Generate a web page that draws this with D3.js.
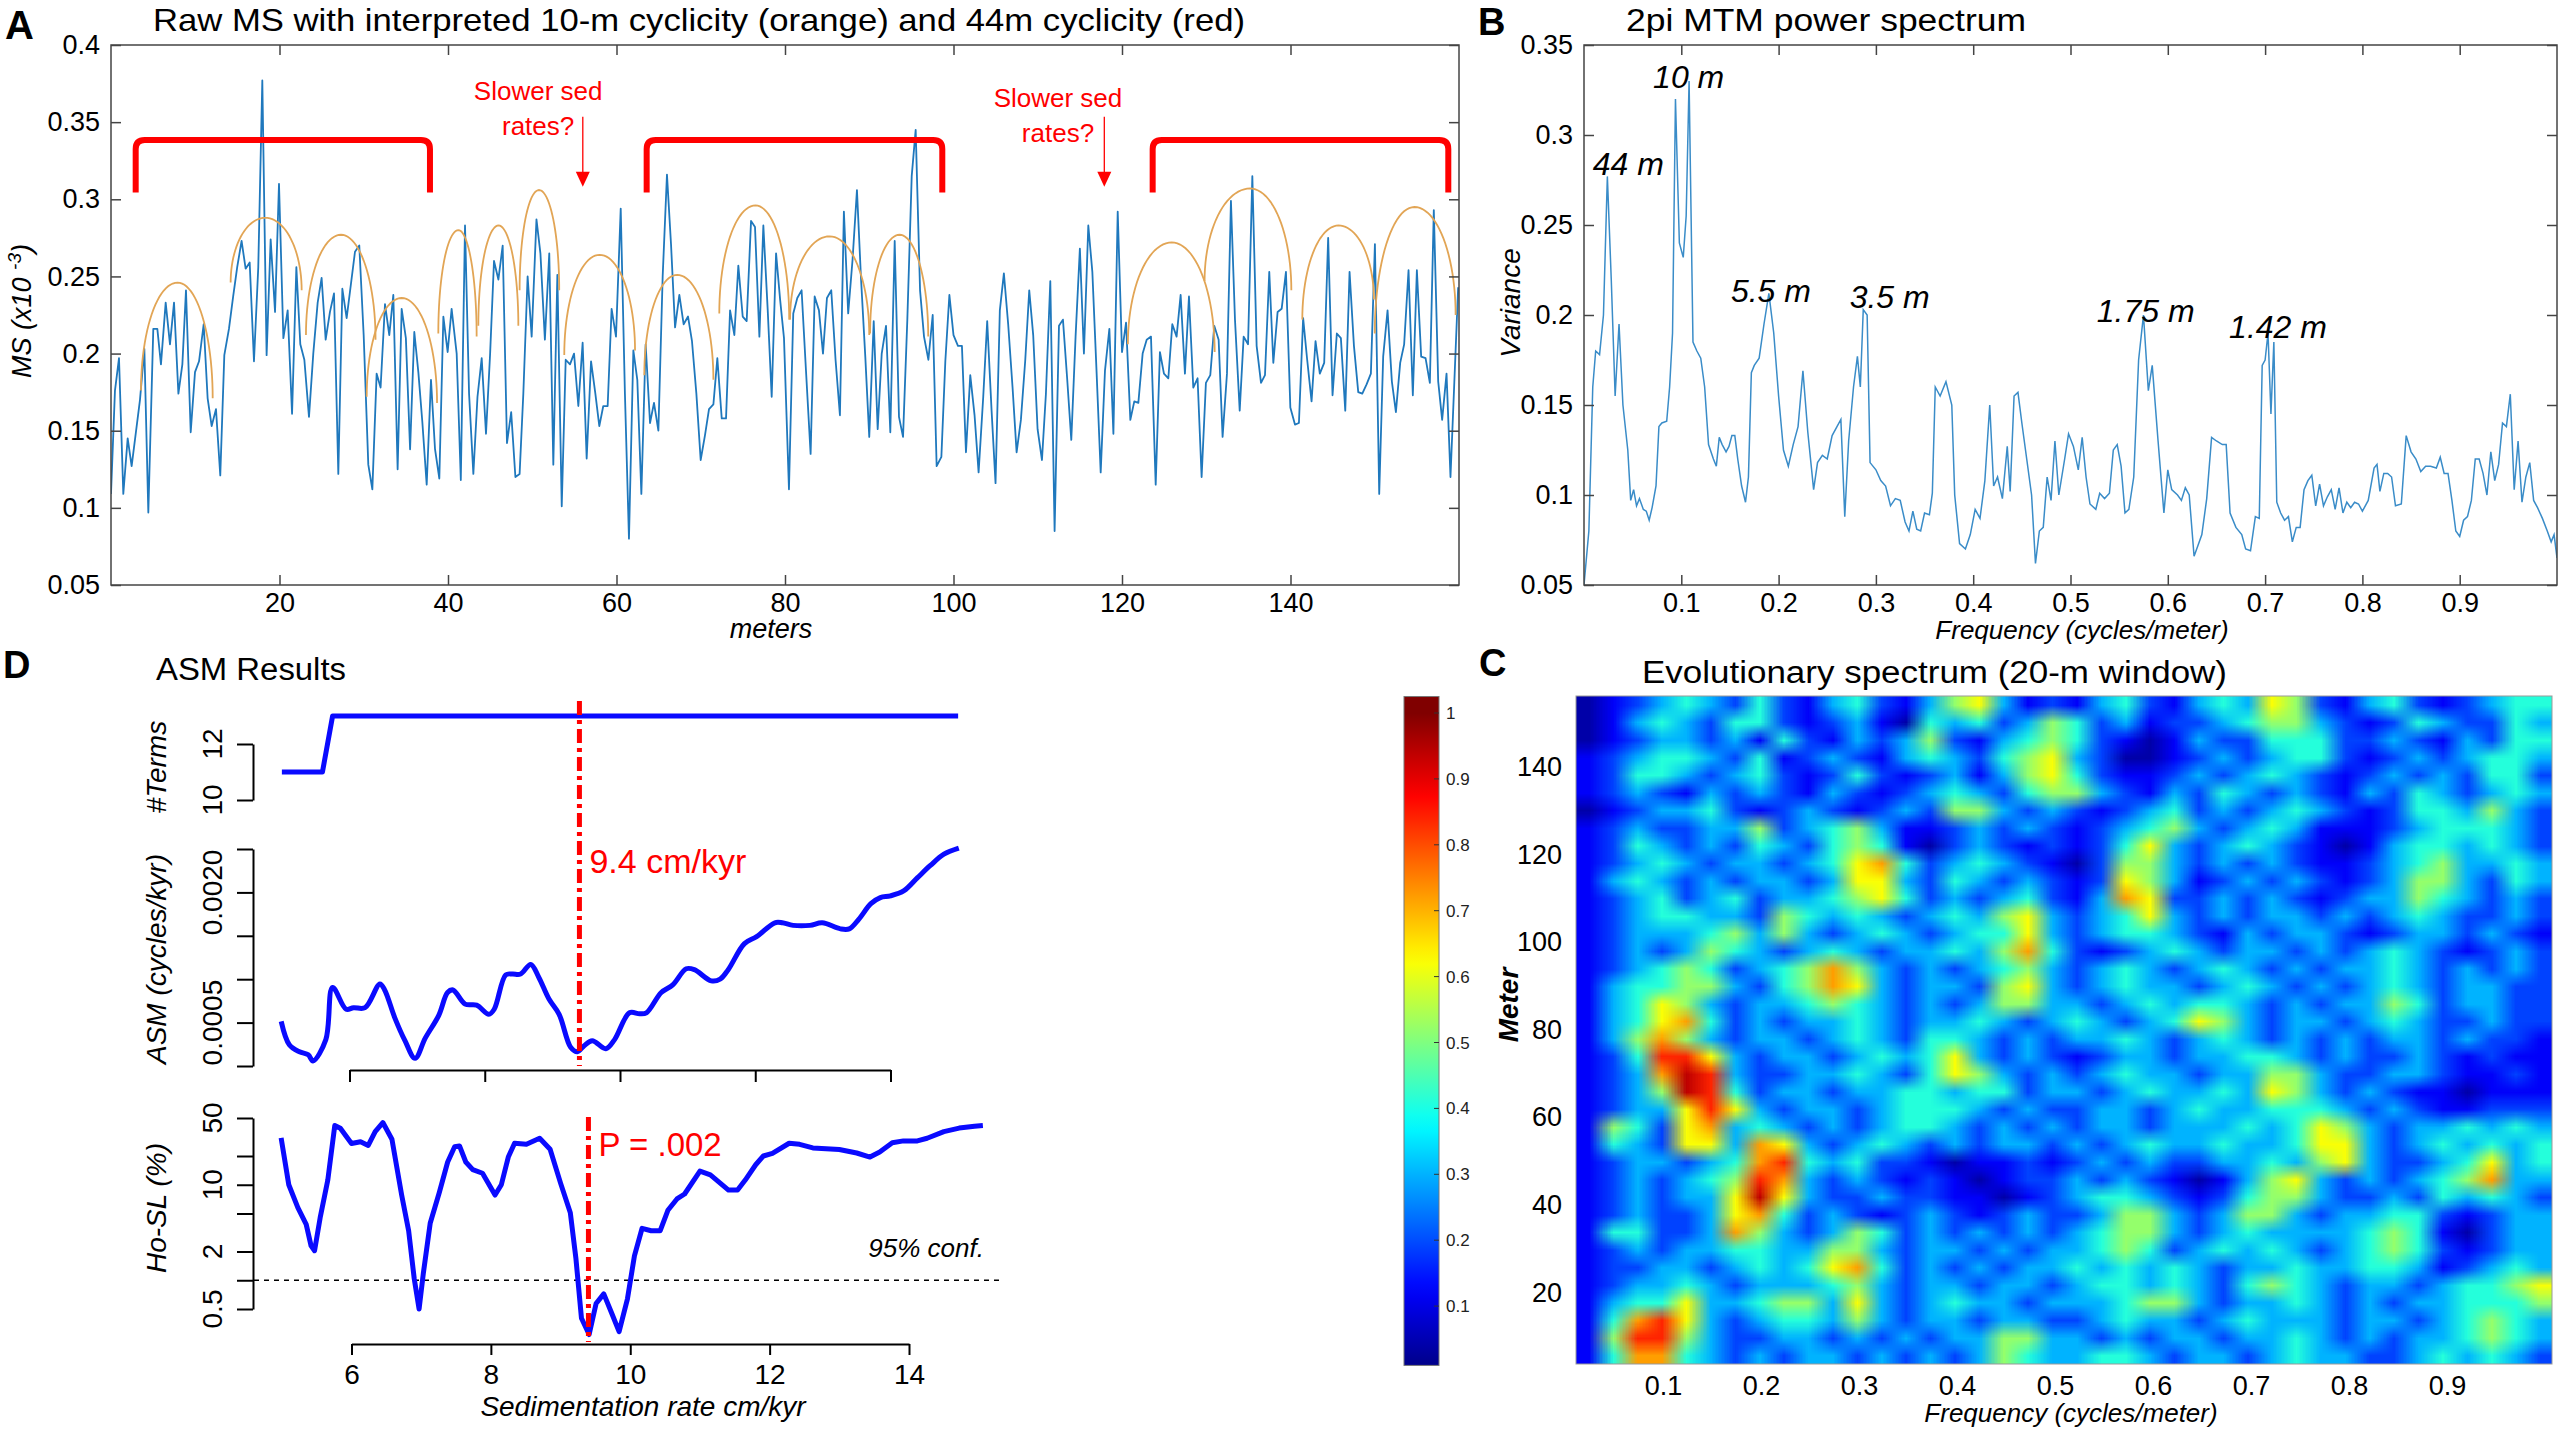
<!DOCTYPE html>
<html>
<head>
<meta charset="utf-8">
<script src="https://cdn.jsdelivr.net/npm/d3@7"></script>
<style>
  body { margin: 0; background: #fff; }
  text { font-family: "Liberation Sans", Arial, sans-serif; }
</style>
</head>
<body>
<svg id="fig"></svg>
<script>
// ---------- Panel A : raw MS series (depth m, MS x10^-3) ----------
var msSeries = [[0.0,0.109],[0.47,0.176],[0.95,0.197],[1.46,0.109],[1.98,0.145],[2.45,0.127],[3.44,0.170],[3.96,0.203],[4.43,0.097],[5.02,0.216],[5.50,0.216],[5.93,0.193],[6.49,0.233],[7.0,0.206],[7.48,0.233],[8.0,0.174],[8.47,0.193],[8.9,0.241],[9.46,0.149],[9.97,0.188],[10.45,0.195],[11.0,0.219],[11.47,0.171],[11.95,0.153],[12.46,0.164],[12.97,0.121],[13.45,0.199],[14.0,0.216],[14.5,0.237],[14.98,0.256],[15.5,0.273],[15.98,0.255],[16.46,0.259],[16.97,0.195],[17.48,0.256],[17.96,0.377],[18.47,0.199],[18.95,0.274],[19.47,0.227],[19.94,0.310],[20.46,0.210],[20.97,0.228],[21.49,0.161],[22.0,0.256],[22.47,0.206],[22.95,0.196],[23.5,0.159],[24.01,0.200],[24.53,0.233],[25.0,0.249],[25.48,0.209],[25.99,0.227],[26.47,0.239],[26.98,0.122],[27.46,0.242],[27.97,0.223],[28.96,0.266],[29.47,0.270],[29.99,0.212],[30.54,0.128],[31.02,0.112],[31.53,0.187],[32.0,0.178],[32.52,0.232],[33.03,0.212],[33.51,0.238],[34.02,0.125],[34.5,0.229],[35.0,0.210],[35.5,0.138],[36.0,0.214],[36.48,0.188],[36.95,0.156],[37.47,0.115],[37.98,0.183],[38.46,0.138],[38.97,0.119],[39.45,0.224],[39.96,0.201],[40.43,0.229],
[41.03,0.200],[41.52,0.118],[42.02,0.283],[42.5,0.174],[43.01,0.122],[43.5,0.172],[44.0,0.197],[44.51,0.148],[45.0,0.200],[45.46,0.260],[45.98,0.248],[46.49,0.270],[47.0,0.142],[47.5,0.162],[48.0,0.120],[48.5,0.122],[48.94,0.174],[49.45,0.250],[49.93,0.211],[50.5,0.287],[50.97,0.265],[51.5,0.209],[52.02,0.265],[52.5,0.128],[52.98,0.251],[53.5,0.101],[53.97,0.196],[54.48,0.193],[54.96,0.200],[55.47,0.166],[55.98,0.207],[56.46,0.132],[56.98,0.195],[57.49,0.174],[57.96,0.153],[58.43,0.166],[58.95,0.166],[59.42,0.229],[59.94,0.211],[60.5,0.294],[61.0,0.174],[61.48,0.080],[62.0,0.202],[62.47,0.183],[62.95,0.109],[63.46,0.206],[63.98,0.155],[64.45,0.168],[64.97,0.150],[65.48,0.250],[65.99,0.316],[66.47,0.271],[66.95,0.217],[67.46,0.238],[67.97,0.219],[68.49,0.224],[68.96,0.208],[69.48,0.174],[69.99,0.131],[70.5,0.147],[70.98,0.164],[71.5,0.167],[71.97,0.197],[72.49,0.158],[73.0,0.158],[73.48,0.228],[73.99,0.212],[74.46,0.257],[74.98,0.224],[75.45,0.221],[75.97,0.286],[76.44,0.282],[76.96,0.211],[77.43,0.283],[77.95,0.228],[78.42,0.172],[78.94,0.265],[79.42,0.235],
[79.88,0.210],[80.47,0.112],[80.98,0.226],[81.46,0.236],[81.97,0.241],[82.49,0.189],[83.04,0.135],[83.52,0.237],[84.03,0.228],[84.51,0.200],[84.98,0.236],[85.49,0.241],[86.0,0.196],[86.52,0.160],[86.99,0.292],[87.5,0.226],[88.02,0.261],[88.54,0.306],[89.01,0.250],[89.53,0.198],[90.0,0.146],[90.53,0.221],[91.0,0.151],[91.48,0.200],[91.99,0.218],[92.5,0.149],[93.02,0.273],[93.53,0.159],[94.01,0.146],[94.52,0.222],[95.04,0.315],[95.51,0.345],[96.03,0.241],[96.5,0.211],[97.02,0.196],[97.53,0.225],[98.0,0.127],[98.56,0.133],[99.03,0.195],[99.51,0.238],[100.0,0.212],[100.53,0.205],[101.0,0.205],[101.48,0.136],[101.99,0.186],[102.5,0.160],[102.98,0.123],[103.53,0.172],[104.0,0.221],[104.52,0.163],[104.99,0.116],[105.5,0.228],[105.98,0.252],[106.49,0.219],[107.01,0.178],[107.49,0.136],[108.0,0.157],[108.52,0.196],[108.99,0.241],[109.46,0.212],[109.98,0.151],[110.5,0.131],[110.97,0.174],[111.49,0.247],[112.0,0.085],[112.52,0.218],[112.99,0.222],[113.5,0.183],[113.98,0.144],[114.49,0.211],[115.0,0.268],[115.48,0.200],[116.0,0.283],[116.48,0.253],[116.99,0.187],[117.47,0.123],[117.98,0.189],[118.5,0.216],[118.98,0.148],[119.49,0.292],[120.0,0.201],[120.48,0.220],
[120.99,0.157],[121.46,0.169],[121.94,0.168],[122.45,0.200],[122.93,0.209],[123.44,0.211],[124.0,0.115],[124.5,0.201],[124.98,0.187],[125.5,0.184],[125.97,0.219],[126.48,0.211],[126.96,0.238],[127.47,0.187],[127.95,0.237],[128.46,0.178],[128.97,0.184],[129.45,0.120],[129.96,0.181],[130.48,0.186],[130.95,0.218],[131.47,0.209],[131.94,0.146],[132.46,0.187],[132.93,0.299],[133.41,0.222],[133.97,0.163],[134.44,0.211],[134.96,0.206],[135.47,0.315],[135.98,0.205],[136.5,0.181],[136.97,0.186],[137.48,0.253],[137.96,0.194],[138.47,0.227],[138.95,0.229],[139.46,0.253],[139.98,0.165],[140.53,0.154],[141.0,0.155],[141.5,0.223],[141.98,0.196],[142.5,0.169],[142.97,0.208],[143.48,0.187],[144.0,0.194],[144.47,0.275],[144.99,0.173],[145.5,0.213],[145.98,0.210],[146.5,0.163],[147.01,0.253],[147.53,0.205],[148.04,0.175],[148.52,0.174],[149.03,0.180],[149.54,0.187],[150.02,0.271],[150.53,0.109],[151.0,0.198],[151.52,0.228],[152.03,0.182],[152.51,0.162],[153.02,0.194],[153.49,0.206],[154.01,0.254],[154.52,0.173],[155.0,0.254],[155.51,0.198],[156.03,0.197],[156.54,0.181],[157.01,0.293],[157.53,0.182],[158.0,0.157],[158.52,0.187],[158.99,0.120],[159.9,0.243]];

// interpreted 10-m cycles: start, crest, end  [m, MS]
var arcStart = [[3.56,0.176],[14.2,0.246],[23.14,0.212],[30.35,0.172],[38.85,0.213],[43.6,0.218],[48.5,0.241],[53.8,0.199],[63.3,0.186],[72.2,0.226],[80.6,0.222],[90.1,0.213],[120.7,0.206],[129.8,0.247],[141.4,0.222],[150.0,0.213]];
var arcPeak  = [[7.9,0.246],[18.3,0.288],[27.3,0.277],[34.5,0.236],[41.23,0.280],[46.0,0.283],[50.8,0.306],[58.0,0.264],[67.2,0.251],[76.5,0.296],[85.3,0.276],[93.6,0.277],[125.9,0.272],[135.2,0.307],[145.7,0.283],[154.7,0.295]];
var arcEnd   = [[12.07,0.171],[22.63,0.241],[31.4,0.209],[38.7,0.168],[43.4,0.211],[48.35,0.218],[53.2,0.241],[62.2,0.202],[71.5,0.183],[80.5,0.222],[90.0,0.212],[97.0,0.211],[131.0,0.201],[140.1,0.241],[149.9,0.235],[159.6,0.225]];

// 44-m cycles (red brackets)
var bracketStart = [2.93, 63.58, 123.64];
var bracketEnd = [37.86, 98.67, 158.73];
var bracketTop = 0.3385, bracketBottom = 0.3044;

// "Slower sed rates?" notes: arrow depth
var noteDepth = [56.0, 117.9];
var noteTextDepth = [50.7, 112.4];

var aXTicks = [20, 40, 60, 80, 100, 120, 140];
var aYTicks = [0.05, 0.1, 0.15, 0.2, 0.25, 0.3, 0.35, 0.4];
var aYLabels = ["0.05", "0.1", "0.15", "0.2", "0.25", "0.3", "0.35", "0.4"];

// ---------- Panel B : MTM spectrum [freq, variance] ----------
var spectrum = [[0.000,0.050],[0.005,0.080],[0.009,0.160],[0.012,0.180],[0.016,0.178],[0.020,0.200],[0.024,0.277],[0.028,0.220],[0.032,0.155],[0.036,0.195],[0.040,0.150],[0.045,0.125],[0.048,0.097],[0.051,0.103],[0.054,0.094],[0.057,0.098],[0.061,0.092],[0.064,0.091],[0.067,0.086],[0.070,0.093],[0.074,0.105],[0.077,0.138],[0.080,0.140],[0.085,0.141],[0.088,0.160],[0.091,0.190],[0.094,0.320],[0.098,0.240],[0.102,0.232],[0.105,0.255],[0.108,0.330],[0.112,0.185],[0.116,0.180],[0.120,0.176],[0.124,0.160],[0.128,0.128],[0.133,0.120],[0.136,0.116],[0.139,0.132],[0.142,0.128],[0.146,0.124],[0.149,0.127],[0.152,0.133],[0.155,0.133],[0.158,0.120],[0.162,0.105],[0.166,0.096],[0.169,0.110],[0.172,0.168],[0.175,0.172],[0.180,0.176],[0.185,0.195],[0.190,0.212],[0.195,0.190],[0.200,0.155],[0.205,0.125],[0.210,0.116],[0.215,0.128],[0.220,0.138],[0.225,0.169],[0.230,0.135],[0.236,0.103],[0.240,0.118],[0.245,0.122],[0.250,0.120],[0.255,0.133],[0.260,0.138],[0.264,0.142],[0.268,0.088],[0.272,0.130],[0.277,0.160],[0.281,0.177],[0.284,0.160],[0.287,0.203],[0.291,0.200],[0.294,0.118],[0.300,0.114],[0.305,0.108],[0.310,0.105],[0.315,0.094],[0.320,0.098],[0.325,0.097],[0.330,0.085],[0.334,0.080],[0.338,0.091],[0.342,0.081],[0.346,0.080],[0.350,0.090],[0.355,0.089],[0.358,0.101],[0.361,0.160],[0.366,0.155],[0.372,0.163],[0.378,0.150],[0.381,0.100],[0.386,0.073],[0.392,0.070],[0.397,0.078],[0.402,0.092],[0.407,0.087],[0.412,0.108],[0.417,0.150],[0.421,0.105],[0.425,0.110],[0.430,0.098],[0.435,0.127],[0.438,0.102],[0.442,0.155],[0.446,0.157],[0.450,0.140],[0.455,0.120],[0.460,0.100],[0.464,0.062],[0.468,0.080],[0.472,0.082],[0.476,0.110],[0.480,0.097],[0.484,0.130],[0.488,0.100],[0.494,0.120],[0.498,0.134],[0.503,0.127],[0.508,0.114],[0.512,0.132],[0.516,0.110],[0.520,0.095],[0.526,0.092],[0.530,0.101],[0.535,0.098],[0.540,0.101],[0.544,0.125],[0.548,0.128],[0.552,0.116],[0.556,0.090],[0.560,0.092],[0.565,0.110],[0.570,0.175],[0.575,0.200],[0.580,0.158],[0.584,0.172],[0.590,0.130],[0.596,0.090],[0.600,0.114],[0.604,0.103],[0.610,0.100],[0.614,0.097],[0.618,0.104],[0.622,0.100],[0.627,0.066],[0.631,0.072],[0.635,0.078],[0.640,0.098],[0.645,0.132],[0.650,0.130],[0.656,0.128],[0.660,0.128],[0.664,0.090],[0.670,0.082],[0.676,0.078],[0.680,0.070],[0.685,0.069],[0.690,0.088],[0.694,0.087],[0.697,0.172],[0.700,0.175],[0.703,0.190],[0.706,0.145],[0.709,0.185],[0.712,0.096],[0.716,0.090],[0.720,0.086],[0.724,0.088],[0.728,0.074],[0.732,0.082],[0.736,0.082],[0.740,0.103],[0.744,0.108],[0.748,0.111],[0.752,0.094],[0.756,0.106],[0.760,0.094],[0.764,0.099],[0.768,0.103],[0.772,0.092],[0.776,0.104],[0.780,0.090],[0.784,0.096],[0.788,0.093],[0.792,0.096],[0.796,0.095],[0.800,0.091],[0.806,0.097],[0.812,0.115],[0.815,0.117],[0.818,0.102],[0.822,0.112],[0.826,0.112],[0.830,0.110],[0.834,0.094],[0.840,0.095],[0.845,0.133],[0.850,0.124],[0.855,0.120],[0.860,0.113],[0.865,0.116],[0.870,0.116],[0.876,0.115],[0.880,0.121],[0.884,0.112],[0.888,0.112],[0.892,0.097],[0.896,0.080],[0.900,0.077],[0.904,0.086],[0.908,0.088],[0.912,0.097],[0.916,0.120],[0.920,0.120],[0.924,0.112],[0.928,0.100],[0.932,0.124],[0.936,0.108],[0.940,0.117],[0.944,0.140],[0.948,0.138],[0.952,0.156],[0.956,0.103],[0.960,0.130],[0.964,0.096],[0.968,0.110],[0.972,0.118],[0.976,0.097],[0.980,0.093],[0.985,0.087],[0.990,0.080],[0.994,0.074],[0.997,0.078],[1.000,0.065]];

var peakNames = ["44 m", "10 m", "5.5 m", "3.5 m", "1.75 m", "1.42 m"];
var peakFreq  = [0.009, 0.071, 0.151, 0.273, 0.527, 0.663];
var peakVar   = [0.278, 0.326, 0.207, 0.204, 0.196, 0.187];

var bXTicks = [0.1, 0.2, 0.3, 0.4, 0.5, 0.6, 0.7, 0.8, 0.9];
var bYTicks = [0.05, 0.1, 0.15, 0.2, 0.25, 0.3, 0.35];
var bYLabels = ["0.05", "0.1", "0.15", "0.2", "0.25", "0.3", "0.35"];

// ---------- Panel C : evolutionary spectrum, power class 0-9 ----------
// 40 frequency bins (0.011-1.007 c/m) x 38 depth rows (156 m at top to 4 m)
var evoFreqRange = [0.0112, 1.0071];
var evoDepthRange = [3.67, 156.2];
var evoClassValue = [0.04, 0.12, 0.19, 0.30, 0.41, 0.52, 0.62, 0.72, 0.84, 0.94];
var evoRows = [
"0123432421342135631213421343652134212344",
"0134324421231043423542312234553212432243",
"0123323142132352134542101322444223213244",
"1234432412321343245632001232344212323443",
"1244323421242123135642112323432123232442",
"1232132321321234324553213243232132432343",
"0123342123212325532321234232343212443532",
"1232233523453112323212345323431112344432",
"1243232432454102321212463234321013443432",
"1234323323467423432102553232321123453343",
"1343232332366324323212653123232123553243",
"1234234233456423234213762232321233543232",
"1234433254343234356323463232332323432232",
"1233345353234323446323443213233212332321",
"1232354323432334357421234323323234321232",
"1234542345753232345323432343232334323232",
"1344553245763233256323433234323234323322",
"1346532334543232355332343443232335423322",
"1346742323343233432343234653233234322322",
"1357532332343244323233432343232323323221",
"1248863233234346323212332334432322321211",
"1237983223343246532323433233553223321121",
"1235984233233443442332343343653232110111",
"1233686323323444323223323433444323211222",
"1542673432323443232323323334346532334343",
"1432663763234323233232343343346632343434",
"1233234784342210112123232233435632234634",
"1232345873232121012232321013563232345733",
"1232336963223221101234432124553223243432",
"1232236742321232123223553235532334421233",
"1442237532354232323234553234333345410233",
"1232334433553233232334542343432345421233",
"1223323434674232323343434323343344312343",
"1233432333453233233234434324543233234456",
"1344633455363234332333455323343232334445",
"1478632344353233233223433234333233234543",
"1588532233232323355332323323343232334543",
"1477432323323232354334432332343322343432"
];
var cXTicks = [0.1, 0.2, 0.3, 0.4, 0.5, 0.6, 0.7, 0.8, 0.9];
var cYTicks = [20, 40, 60, 80, 100, 120, 140];
var cbTicks = [0.1, 0.2, 0.3, 0.4, 0.5, 0.6, 0.7, 0.8, 0.9, 1];
var cbLabels = ["0.1", "0.2", "0.3", "0.4", "0.5", "0.6", "0.7", "0.8", "0.9", "1"];

// ---------- Panel D : ASM results ----------
var termsRate = [5.0, 5.6, 5.75, 15.0];
var termsCount = [11, 11, 13, 13];
var asmRate = [4.99,5.11,5.26,5.39,5.46,5.65,5.75,5.95,6.06,6.23,6.45,6.52,6.67,6.82,6.97,7.12,7.32,7.45,7.53,7.71,7.88,8.06,8.14,8.31,8.41,8.53,8.68,8.80,8.95,9.10,9.27,9.37,9.47,9.59,9.79,9.92,10.14,10.29,10.39,10.61,10.78,10.98,11.10,11.35,11.48,11.60,11.84,12.02,12.29,12.40,12.56,12.81,12.99,13.26,13.39,13.53,13.71,13.85,14.00,14.20,14.40,14.59,14.79,15.01];
var asmValue = [0.000514,0.000245,0.000164,0.000129,0.000058,0.000304,0.000905,0.000654,0.000672,0.000672,0.000946,0.000876,0.000555,0.000292,0.000088,0.000321,0.000584,0.000847,0.000876,0.000713,0.000701,0.000596,0.000654,0.00105,0.00106,0.00106,0.00117,0.00102,0.000771,0.000596,0.000216,0.000164,0.000234,0.000292,0.000199,0.000304,0.000613,0.000602,0.000613,0.000847,0.000935,0.00112,0.00111,0.000981,0.00100,0.00111,0.00141,0.00149,0.00165,0.00165,0.00162,0.00162,0.00165,0.00158,0.00158,0.00169,0.00187,0.00194,0.00196,0.00202,0.00217,0.00231,0.00244,0.00251];
var hoRate = [4.99,5.10,5.23,5.35,5.42,5.47,5.55,5.66,5.76,5.84,6.00,6.13,6.24,6.34,6.45,6.58,6.72,6.82,6.90,6.97,7.03,7.13,7.26,7.38,7.48,7.55,7.64,7.74,7.88,8.06,8.15,8.25,8.34,8.51,8.70,8.85,9.00,9.14,9.22,9.30,9.41,9.51,9.62,9.74,9.84,9.96,10.06,10.17,10.30,10.43,10.54,10.67,10.78,11.00,11.15,11.41,11.54,11.65,11.80,11.91,12.04,12.28,12.43,12.62,13.00,13.25,13.44,13.58,13.76,13.92,14.12,14.26,14.50,14.72,14.94,15.06];
var hoValue = [31.0,10.0,5.76,3.85,2.29,2.04,4.5,11.2,41.7,39.0,27.0,28.2,25.8,36,44.8,30,7.8,3.3,1.04,0.5,1.17,3.98,8.3,17.3,25,25.5,17.3,14.4,13.2,7.8,10,19.5,27.2,26.5,30.7,23.5,10.4,5.1,1.7,0.40,0.27,0.57,0.72,0.44,0.29,0.64,1.8,3.5,3.3,3.3,5.4,7.1,8.0,13.9,12.7,8.8,8.8,11.2,16.2,20,21.3,27.2,26.5,24.3,23.4,21.5,19.5,22,27.5,28.8,28.8,30.7,36,39.2,41,41.7];
var bestRate = 9.4;
var confLevel = 1.0;
var dXTicks = [6, 8, 10, 12, 14];
var termsTicks = [10, 12];
var asmTicks = [0, 0.0005, 0.001, 0.0015, 0.002, 0.0025];
var asmLabelTicks = [0.0005, 0.002];
var asmLabels = ["0.0005", "0.0020"];
var hoTicks = [0.5, 1, 2, 5, 10, 20, 50];
var hoLabelTicks = [0.5, 2, 10, 50];
var hoLabels = ["0.5", "2", "10", "50"];

// =====================================================================
var W = 2571, H = 1435;
var svg = d3.select("#fig").attr("width", W).attr("height", H);
svg.append("rect").attr("width", W).attr("height", H).attr("fill", "#fff");
var defs = svg.append("defs");

function txt(x, y, s, size, opt) {
    opt = opt || {};
    var t = svg.append("text")
        .attr("x", x).attr("y", y)
        .attr("font-size", size + "px")
        .attr("fill", opt.fill || "#000")
        .attr("text-anchor", opt.anchor || "start")
        .text(s);
    if (opt.italic) t.attr("font-style", "italic");
    if (opt.bold) t.attr("font-weight", "bold");
    if (opt.rotate) t.attr("transform", "rotate(-90," + x + "," + y + ")");
    if (opt.len) t.attr("textLength", opt.len).attr("lengthAdjust", "spacingAndGlyphs");
    return t;
}

function styleAxis(g, size) {
    g.select(".domain").remove();
    g.selectAll("line").attr("stroke", "#444").attr("stroke-width", 1.5);
    g.selectAll("text").attr("font-size", size + "px").attr("fill", "#000")
        .attr("font-family", "'Liberation Sans', Arial, sans-serif");
}

// box axes with inward ticks on all four sides (MATLAB style)
function boxAxes(x, y, xt, yt, ylab, x0, x1, y0, y1) {
    var g = svg.append("g");
    g.append("g").attr("transform", "translate(0," + y0 + ")")
        .call(d3.axisBottom(x).tickValues(xt).tickSize(-10).tickSizeOuter(0).tickPadding(8))
        .call(styleAxis, 27);
    g.append("g").attr("transform", "translate(0," + y1 + ")")
        .call(d3.axisTop(x).tickValues(xt).tickSize(-10).tickSizeOuter(0).tickFormat(""))
        .call(styleAxis, 27);
    g.append("g").attr("transform", "translate(" + x0 + ",0)")
        .call(d3.axisLeft(y).tickValues(yt).tickSize(-10).tickSizeOuter(0).tickPadding(11)
            .tickFormat(function (d, i) { return ylab[i]; }))
        .call(styleAxis, 27);
    g.append("g").attr("transform", "translate(" + x1 + ",0)")
        .call(d3.axisRight(y).tickValues(yt).tickSize(-10).tickSizeOuter(0).tickFormat(""))
        .call(styleAxis, 27);
    g.append("rect").attr("x", x0).attr("y", y1).attr("width", x1 - x0).attr("height", y0 - y1)
        .attr("fill", "none").attr("stroke", "#444").attr("stroke-width", 1.5);
}

// ---------------- Panel A ----------------
var xA = d3.scaleLinear().domain([0, 160]).range([111, 1459]);
var yA = d3.scaleLinear().domain([0.05, 0.4]).range([585, 45]);

defs.append("clipPath").attr("id", "clipA").append("rect")
    .attr("x", 111).attr("y", 45).attr("width", 1348).attr("height", 540);

svg.append("path").datum(msSeries)
    .attr("clip-path", "url(#clipA)")
    .attr("fill", "none").attr("stroke", "#1f78bd").attr("stroke-width", 1.8)
    .attr("stroke-linejoin", "round")
    .attr("d", d3.line().x(function (d) { return xA(d[0]); }).y(function (d) { return yA(d[1]); }));

// cycle arcs: two quarter ellipses meeting at the crest
var arcLine = d3.line().x(function (d) { return xA(d[0]); }).y(function (d) { return yA(d[1]); });
var steps = d3.range(0, 1.0001, 1 / 24);
arcPeak.forEach(function (p, i) {
    var s = arcStart[i], e = arcEnd[i], pts = [];
    steps.forEach(function (u) {
        var t = u * Math.PI / 2;
        pts.push([p[0] - (p[0] - s[0]) * Math.cos(t), s[1] + (p[1] - s[1]) * Math.sin(t)]);
    });
    steps.forEach(function (u) {
        var t = u * Math.PI / 2;
        pts.push([p[0] + (e[0] - p[0]) * Math.sin(t), e[1] + (p[1] - e[1]) * Math.cos(t)]);
    });
    svg.append("path").attr("d", arcLine(pts)).attr("fill", "none")
        .attr("stroke", "#e2a555").attr("stroke-width", 1.8);
});

// 44 m brackets
bracketStart.forEach(function (b, i) {
    var l = xA(b), r = xA(bracketEnd[i]), t = yA(bracketTop), bt = yA(bracketBottom), k = 9;
    svg.append("path")
        .attr("d", "M" + l + "," + bt + "L" + l + "," + (t + k) + "Q" + l + "," + t + "," + (l + k) + "," + t +
            "L" + (r - k) + "," + t + "Q" + r + "," + t + "," + r + "," + (t + k) + "L" + r + "," + bt)
        .attr("fill", "none").attr("stroke", "#ff0000").attr("stroke-width", 6);
});

// slower sed rate notes
var noteTop = [yA(0.3535), yA(0.3535)];
var noteTip = yA(0.3082);
noteDepth.forEach(function (d, i) {
    var x = xA(d);
    var off = i === 0 ? 0 : 7;
    svg.append("line").attr("x1", x).attr("x2", x).attr("y1", noteTop[i]).attr("y2", noteTip - 14)
        .attr("stroke", "#ff0000").attr("stroke-width", 1.3);
    svg.append("path").attr("d", "M" + (x - 7) + "," + (noteTip - 15) + "L" + (x + 7) + "," + (noteTip - 15) + "L" + x + "," + noteTip + "Z")
        .attr("fill", "#ff0000");
    txt(xA(noteTextDepth[i]), 100 + off, "Slower sed", 26, { fill: "#ff0000", anchor: "middle" });
    txt(xA(noteTextDepth[i]), 135 + off, "rates?", 26, { fill: "#ff0000", anchor: "middle" });
});

boxAxes(xA, yA, aXTicks, aYTicks, aYLabels, 111, 1459, 585, 45);

txt(5, 39, "A", 40, { bold: true });
txt(153, 31, "Raw MS with interpreted 10-m cyclicity (orange) and 44m cyclicity (red)", 32, { len: 1092 });
txt(771, 638, "meters", 27, { italic: true, anchor: "middle" });
var msLab = txt(31, 311, "", 27, { italic: true, anchor: "middle", rotate: true });
msLab.append("tspan").text("MS (x10 ");
msLab.append("tspan").attr("dy", -10).attr("font-size", "19px").text("-3");
msLab.append("tspan").attr("dy", 10).text(")");

// ---------------- Panel B ----------------
var xB = d3.scaleLinear().domain([0, 1]).range([1584, 2557]);
var yB = d3.scaleLinear().domain([0.05, 0.35]).range([585, 45]);

defs.append("clipPath").attr("id", "clipB").append("rect")
    .attr("x", 1584).attr("y", 45).attr("width", 973).attr("height", 540);

svg.append("path").datum(spectrum)
    .attr("clip-path", "url(#clipB)")
    .attr("fill", "none").attr("stroke", "#3a8cc8").attr("stroke-width", 1.5)
    .attr("d", d3.line().x(function (d) { return xB(d[0]); }).y(function (d) { return yB(d[1]); }));

boxAxes(xB, yB, bXTicks, bYTicks, bYLabels, 1584, 2557, 585, 45);

peakNames.forEach(function (n, i) {
    txt(xB(peakFreq[i]), yB(peakVar[i]), n, 32, { italic: true });
});
txt(1478, 35, "B", 38, { bold: true });
txt(1626, 31, "2pi MTM power spectrum", 31, { len: 400 });
txt(2082, 639, "Frequency (cycles/meter)", 26, { italic: true, anchor: "middle" });
txt(1520, 303, "Variance", 28, { italic: true, anchor: "middle", rotate: true });

// ---------------- Panel C ----------------
function jet(v) {
    var c = function (a) { return Math.max(0, Math.min(1, a)); };
    var r = c(1.5 - Math.abs(4 * v - 3)), g = c(1.5 - Math.abs(4 * v - 2)), b = c(1.5 - Math.abs(4 * v - 1));
    return d3.rgb(r * 255, g * 255, b * 255).toString();
}

var xC = d3.scaleLinear().domain(evoFreqRange).range([1576, 2552]);
var yC = d3.scaleLinear().domain(evoDepthRange).range([1364, 696]);
var nCols = evoRows[0].length, nRows = evoRows.length;
var colBand = d3.scaleBand().domain(d3.range(nCols)).range([xC(evoFreqRange[0]), xC(evoFreqRange[1])]);
var rowBand = d3.scaleBand().domain(d3.range(nRows)).range([yC(evoDepthRange[1]), yC(evoDepthRange[0])]);

defs.append("clipPath").attr("id", "clipC").append("rect")
    .attr("x", 1576).attr("y", 696).attr("width", 976).attr("height", 668);

var cells = [];
evoRows.forEach(function (row, r) {
    row.split("").forEach(function (ch, c) {
        cells.push({ r: r, c: c, v: evoClassValue[+ch] });
    });
});
var gC = svg.append("g").attr("clip-path", "url(#clipC)");
gC.append("g").selectAll("rect").data(cells).enter().append("rect")
    .attr("x", function (d) { return colBand(d.c) - 0.5; })
    .attr("y", function (d) { return rowBand(d.r) - 0.5; })
    .attr("width", colBand.bandwidth() + 1)
    .attr("height", rowBand.bandwidth() + 1)
    .attr("fill", function (d) { return jet(d.v); });

// smooth (shaded) version of the same cells, as in MATLAB's interpolated pcolor
var cv = document.createElement("canvas");
cv.width = nCols; cv.height = nRows;
var ctx = cv.getContext("2d");
var img = ctx.createImageData(nCols, nRows);
cells.forEach(function (d) {
    var col = d3.rgb(jet(d.v)), k = (d.r * nCols + d.c) * 4;
    img.data[k] = col.r; img.data[k + 1] = col.g; img.data[k + 2] = col.b; img.data[k + 3] = 255;
});
ctx.putImageData(img, 0, 0);
gC.append("image")
    .attr("href", cv.toDataURL("image/png"))
    .attr("x", colBand.range()[0]).attr("y", rowBand.range()[0])
    .attr("width", colBand.range()[1] - colBand.range()[0])
    .attr("height", rowBand.range()[1] - rowBand.range()[0])
    .attr("preserveAspectRatio", "none")
    .style("image-rendering", "auto");

svg.append("rect").attr("x", 1576).attr("y", 696).attr("width", 976).attr("height", 668)
    .attr("fill", "none").attr("stroke", "#999").attr("stroke-width", 1);

svg.append("g").attr("transform", "translate(0,1364)")
    .call(d3.axisBottom(xC).tickValues(cXTicks).tickSize(0).tickPadding(12).tickFormat(d3.format(".1f")))
    .call(styleAxis, 27);
svg.append("g").attr("transform", "translate(1576,0)")
    .call(d3.axisLeft(yC).tickValues(cYTicks).tickSize(0).tickPadding(14))
    .call(styleAxis, 27);

// colour bar
var cb = d3.scaleLinear().domain([0, 1]).range([1372, 713]);
var grad = defs.append("linearGradient").attr("id", "jetbar")
    .attr("x1", 0).attr("y1", 1).attr("x2", 0).attr("y2", 0);
var cbLo = 0.01, cbHi = 1.025;
d3.range(0, 1.0001, 0.025).forEach(function (u) {
    grad.append("stop").attr("offset", u).attr("stop-color", jet(Math.min(1, cbLo + u * (cbHi - cbLo))));
});
svg.append("rect").attr("x", 1404).attr("y", cb(cbHi)).attr("width", 35).attr("height", cb(cbLo) - cb(cbHi))
    .attr("fill", "url(#jetbar)").attr("stroke", "#777").attr("stroke-width", 1);
cbTicks.forEach(function (v, i) {
    svg.append("line").attr("x1", 1434).attr("x2", 1439).attr("y1", cb(v)).attr("y2", cb(v))
        .attr("stroke", "#333").attr("stroke-width", 1);
    txt(1446, cb(v) + 6, cbLabels[i], 17, { fill: "#222" });
});

txt(1479, 676, "C", 38, { bold: true });
txt(1642, 683, "Evolutionary spectrum (20-m window)", 31, { len: 585 });
txt(2071, 1422, "Frequency (cycles/meter)", 26, { italic: true, anchor: "middle" });
txt(1518, 1005, "Meter", 28, { italic: true, bold: true, anchor: "middle", rotate: true });

// ---------------- Panel D ----------------
var xD = d3.scaleLinear().domain([6, 14]).range([349.5, 890.5]);   // upper two plots
var xD2 = d3.scaleLinear().domain([6, 14]).range([351.5, 909]);    // lower plot
var yTerms = d3.scaleLinear().domain([10, 12]).range([800, 744]);
var yAsm = d3.scaleLinear().domain([0, 0.0025]).range([1066, 849]);
var yHo = d3.scaleLog().domain([0.5, 50]).range([1309, 1118]);

function rAxis(scale, ticks, labTicks, labs) {
    var g = svg.append("g").attr("transform", "translate(253,0)")
        .call(d3.axisLeft(scale).tickValues(ticks).tickSize(16).tickSizeOuter(0).tickFormat(""));
    g.select(".domain").attr("stroke", "#000").attr("stroke-width", 2);
    g.selectAll("line").attr("stroke", "#000").attr("stroke-width", 2);
    labTicks.forEach(function (v, i) {
        txt(222, scale(v), labs[i], 28, { anchor: "middle", rotate: true });
    });
}
rAxis(yTerms, termsTicks, termsTicks, ["10", "12"]);
rAxis(yAsm, asmTicks, asmLabelTicks, asmLabels);
rAxis(yHo, hoTicks, hoLabelTicks, hoLabels);

var gMid = svg.append("g").attr("transform", "translate(0,1070)")
    .call(d3.axisBottom(xD).tickValues(dXTicks).tickSize(12).tickSizeOuter(0).tickFormat(""));
gMid.select(".domain").attr("stroke", "#000").attr("stroke-width", 2);
gMid.selectAll("line").attr("stroke", "#000").attr("stroke-width", 2);

var gBot = svg.append("g").attr("transform", "translate(0,1344)")
    .call(d3.axisBottom(xD2).tickValues(dXTicks).tickSize(11).tickSizeOuter(0).tickPadding(9));
gBot.select(".domain").attr("stroke", "#000").attr("stroke-width", 2);
gBot.selectAll("line").attr("stroke", "#000").attr("stroke-width", 2);
gBot.selectAll("text").attr("font-size", "28px").attr("fill", "#000")
    .attr("font-family", "'Liberation Sans', Arial, sans-serif");

// 95% confidence line
svg.append("line").attr("x1", 254).attr("x2", 1004).attr("y1", yHo(confLevel)).attr("y2", yHo(confLevel))
    .attr("stroke", "#000").attr("stroke-width", 1.6).attr("stroke-dasharray", "5,5");
txt(984, 1257, "95% conf.", 26, { italic: true, anchor: "end" });

var blue = "#0a0aff";
svg.append("path")
    .attr("d", d3.line().x(function (d, i) { return xD(termsRate[i]); }).y(function (d) { return yTerms(d); })(termsCount))
    .attr("fill", "none").attr("stroke", blue).attr("stroke-width", 5).attr("stroke-linejoin", "round");
svg.append("path")
    .attr("d", d3.line().curve(d3.curveCatmullRom).x(function (d, i) { return xD(asmRate[i]); }).y(function (d) { return yAsm(d); })(asmValue))
    .attr("fill", "none").attr("stroke", blue).attr("stroke-width", 5).attr("stroke-linejoin", "round");
svg.append("path")
    .attr("d", d3.line().x(function (d, i) { return xD2(hoRate[i]); }).y(function (d) { return yHo(d); })(hoValue))
    .attr("fill", "none").attr("stroke", blue).attr("stroke-width", 5).attr("stroke-linejoin", "round");

// best sedimentation rate
svg.append("line").attr("x1", xD(bestRate)).attr("x2", xD(bestRate)).attr("y1", 701).attr("y2", 1066)
    .attr("stroke", "#ff0000").attr("stroke-width", 5).attr("stroke-dasharray", "14,5,4,5");
svg.append("line").attr("x1", xD2(bestRate)).attr("x2", xD2(bestRate)).attr("y1", 1117).attr("y2", 1342)
    .attr("stroke", "#ff0000").attr("stroke-width", 5).attr("stroke-dasharray", "14,5,4,5");
txt(xD(bestRate) + 10, 873, "9.4 cm/kyr", 34, { fill: "#ff0000" });
txt(xD2(bestRate) + 10, 1156, "P = .002", 33, { fill: "#ff0000" });

txt(3, 678, "D", 38, { bold: true });
txt(156, 680, "ASM Results", 31, { len: 190 });
txt(166, 767, "#Terms", 28, { italic: true, anchor: "middle", rotate: true });
txt(166, 959, "ASM (cycles/kyr)", 28, { italic: true, anchor: "middle", rotate: true });
txt(166, 1208, "Ho-SL (%)", 28, { italic: true, anchor: "middle", rotate: true });
txt(643, 1416, "Sedimentation rate cm/kyr", 28, { italic: true, anchor: "middle" });
</script>
</body>
</html>
